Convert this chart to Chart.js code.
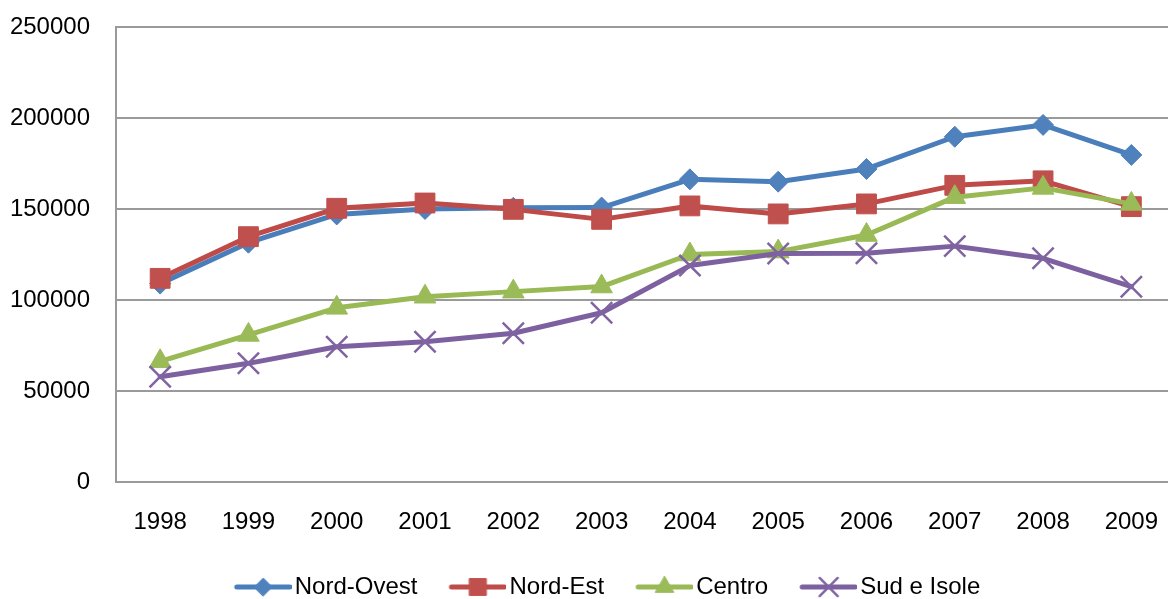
<!DOCTYPE html>
<html>
<head>
<meta charset="utf-8">
<script src="https://cdn.jsdelivr.net/npm/chart.js@4.4.1/dist/chart.umd.min.js"></script>
<style>
  html, body { margin: 0; padding: 0; overflow: hidden; background: #ffffff; }
  canvas { display: block; }
</style>
</head>
<body>
<canvas id="chart" width="1193" height="609" style="width:1193px;height:609px"></canvas>
<script>
// Years on the category axis
const years = ['1998', '1999', '2000', '2001', '2002', '2003', '2004', '2005', '2006', '2007', '2008', '2009'];

// One series per macro-area
const nordOvest = [109000, 131500, 147000, 150000, 150700, 150800, 166300, 165000, 172000, 189700, 196200, 179700];
const nordEst   = [111900, 134800, 150400, 153300, 149800, 144300, 151700, 147300, 152800, 163000, 165500, 151300];
const centro    = [66300, 80800, 95700, 101800, 104600, 107400, 125000, 126600, 135700, 156500, 161600, 152800];
const sudIsole  = [57800, 65200, 74300, 77100, 81700, 93000, 118900, 125500, 125700, 129600, 122900, 107300];

const seriesNames = ['Nord-Ovest', 'Nord-Est', 'Centro', 'Sud e Isole'];
const yTickValues = [0, 50000, 100000, 150000, 200000, 250000];

// Look of each series
const lineColors   = ['#4A7EBB', '#BE4B48', '#98B954', '#7D60A0'];
const markerColors = ['#4F81BD', '#C0504D', '#9BBB59', '#8064A2'];
const markerStyles = ['rectRot', 'rect', 'triangle', 'crossRot'];
const markerRadius = [10.5, 14, 12.5, 15];
const markerBorder = [1, 1, 1, 2.5];

const FONT = { family: "'Liberation Sans', Arial, sans-serif", size: 24 };
const AXIS_GREY = '#9a9a9a';

// Legend swatch: a short line with the series marker in its middle
function legendIcon(i) {
  const c = document.createElement('canvas');
  c.width = 88; c.height = 30;
  const g = c.getContext('2d');
  g.strokeStyle = lineColors[i];
  g.lineWidth = 5;
  g.lineCap = 'round';
  g.beginPath();
  g.moveTo(33, 15);
  g.lineTo(86, 15);
  g.stroke();
  g.fillStyle = markerColors[i];
  g.strokeStyle = markerColors[i];
  g.lineWidth = markerBorder[i];
  Chart.helpers.drawPoint(g, {
    pointStyle: markerStyles[i],
    radius: markerRadius[i] * 0.85,
    borderWidth: markerBorder[i],
    rotation: 0
  }, 59.5, 15);
  return c;
}

const seriesValues = [nordOvest, nordEst, centro, sudIsole];

const datasets = seriesNames.map((name, i) => ({
  label: name,
  data: seriesValues[i],
  borderColor: lineColors[i],
  backgroundColor: markerColors[i],
  borderWidth: 5,
  borderJoinStyle: 'round',
  borderCapStyle: 'round',
  tension: 0,
  pointStyle: markerStyles[i],
  pointRadius: markerRadius[i],
  pointHoverRadius: markerRadius[i],
  pointBackgroundColor: markerColors[i],
  pointBorderColor: markerColors[i],
  pointBorderWidth: markerBorder[i],
  order: seriesNames.length - i
}));

const icons = seriesNames.map((_, i) => legendIcon(i));

new Chart(document.getElementById('chart'), {
  type: 'line',
  data: { labels: years, datasets: datasets },
  options: {
    responsive: false,
    animation: false,
    devicePixelRatio: 1,
    layout: { padding: { top: 27, left: 0, right: 0, bottom: 0 } },
    plugins: {
      tooltip: { enabled: false },
      legend: {
        position: 'bottom',
        labels: {
          usePointStyle: true,
          pointStyleWidth: 70,
          padding: 10,
          color: '#000000',
          font: FONT,
          generateLabels: chart => chart.data.datasets.map((ds, i) => ({
            text: ds.label,
            pointStyle: icons[i],
            fillStyle: 'rgba(0,0,0,0)',
            strokeStyle: 'rgba(0,0,0,0)',
            lineWidth: 0,
            hidden: false,
            datasetIndex: i,
            fontColor: '#000000'
          }))
        }
      }
    },
    scales: {
      x: {
        type: 'category',
        offset: true,
        grid: { display: false, drawTicks: false },
        border: { display: true, color: AXIS_GREY, width: 2 },
        ticks: { color: '#000000', font: FONT, padding: 26, maxRotation: 0, autoSkip: false },
        afterFit: s => { s.height = 83; s.paddingLeft = 0; s.paddingRight = 0; }
      },
      y: {
        min: 0,
        max: 250000,
        grid: { color: AXIS_GREY, lineWidth: 2, drawTicks: false },
        border: { display: true, color: AXIS_GREY, width: 2 },
        ticks: {
          color: '#000000',
          font: FONT,
          padding: 26,
          callback: v => String(v)
        },
        afterBuildTicks: s => { s.ticks = yTickValues.map(v => ({ value: v })); },
        afterFit: s => { s.width = 116; s.paddingTop = 0; s.paddingBottom = 0; }
      },
      yRight: {
        type: 'linear',
        position: 'right',
        display: true,
        grid: { display: false, drawTicks: false },
        border: { display: false },
        ticks: { display: false },
        afterFit: s => { s.width = 13; }
      }
    }
  }
});
</script>
</body>
</html>
